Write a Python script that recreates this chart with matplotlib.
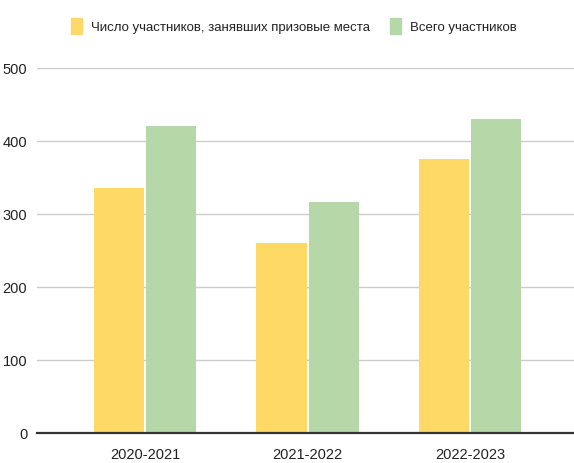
import matplotlib
matplotlib.use('Agg')
import matplotlib.pyplot as plt
import numpy as np
from matplotlib.patches import Patch

plt.rcParams['font.family'] = ['Liberation Sans', 'DejaVu Sans']

years = ['2020-2021', '2021-2022', '2022-2023']
winners = [335, 260, 375]
total = [420, 316, 430]
labels = ['Число участников, занявших призовые места', 'Всего участников']
c_yellow = '#FFD966'
c_green = '#B6D7A8'

fig = plt.figure(figsize=(5.74, 4.64), dpi=100)
ax = fig.add_axes([37/574, 1 - 434/464, 1 - 37/574, (434 - 69)/464])

x = np.arange(len(years))
w = 0.31
ax.bar(x - w/2 - 0.006, winners, w, color=c_yellow, zorder=3)
ax.bar(x + w/2 + 0.006, total, w, color=c_green, zorder=3)

ax.set_xlim(-0.665, 2.64)
ax.set_ylim(0, 500)
ax.set_yticks(range(0, 501, 100))
ax.set_xticks(x)
ax.set_xticklabels(years)
ax.grid(axis='y', color='#cccccc', linewidth=1, zorder=0)
for s in ['top', 'right', 'left']:
    ax.spines[s].set_visible(False)
ax.spines['bottom'].set_color('#333333')
ax.spines['bottom'].set_linewidth(1.6)
ax.spines['bottom'].set_zorder(4)
ax.tick_params(length=0, labelsize=10.5, colors='#222222')
ax.tick_params(axis='y', pad=7)
ax.tick_params(axis='x', pad=10)

handles = [Patch(color=c_yellow), Patch(color=c_green)]
fig.legend(handles, labels, loc='center', bbox_to_anchor=(294/574, 1 - 27/464), ncol=2,
           frameon=False, fontsize=9.5, handlelength=0.85, handleheight=1.6,
           handletextpad=0.7, columnspacing=1.5, labelcolor='#222222')

fig.savefig('out.png', dpi=100)
